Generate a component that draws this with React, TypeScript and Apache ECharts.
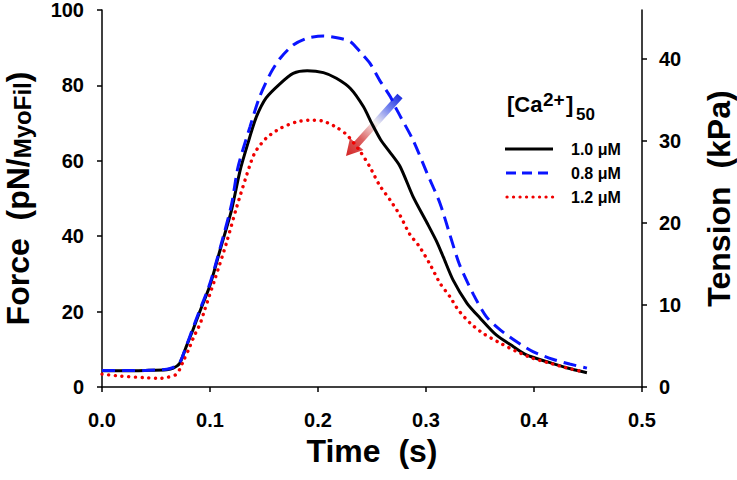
import React, { useEffect, useRef } from "react";
import * as echarts from "echarts";

const FONT = '"Liberation Sans", Arial, sans-serif';

const xTicks = [0, 0.1, 0.2, 0.3, 0.4, 0.5];
const forceTicks = [0, 20, 40, 60, 80, 100];
const tensionTicks = [0, 10, 20, 30, 40];

const seriesNames = ["1.0 \u03bcM", "0.8 \u03bcM", "1.2 \u03bcM"];

const timeBlack = [0, 0.02, 0.04, 0.06, 0.066, 0.072, 0.078, 0.084, 0.09, 0.1, 0.11, 0.12, 0.128, 0.136, 0.143, 0.152, 0.165, 0.177, 0.19, 0.205, 0.217, 0.23, 0.242, 0.25, 0.258, 0.266, 0.276, 0.288, 0.301, 0.31, 0.316, 0.325, 0.338, 0.35, 0.365, 0.381, 0.393, 0.412, 0.43, 0.449];
const forceBlack = [4.3, 4.3, 4.4, 4.6, 5.0, 6.3, 10.7, 15, 19.6, 27, 37, 47, 57.6, 65.5, 71.7, 76.7, 80.5, 83.2, 83.9, 83.4, 81.9, 79.2, 74.4, 69.8, 65.6, 62.5, 58.5, 50.5, 43.5, 38.5, 34.5, 28.4, 22.2, 18.3, 13.8, 10.7, 8.5, 6.7, 5.1, 3.8];

const timeBlue = [0, 0.02, 0.04, 0.06, 0.066, 0.072, 0.078, 0.084, 0.09, 0.1, 0.11, 0.12, 0.126, 0.137, 0.146, 0.156, 0.165, 0.177, 0.19, 0.205, 0.22, 0.23, 0.239, 0.248, 0.257, 0.267, 0.273, 0.288, 0.301, 0.313, 0.322, 0.331, 0.344, 0.356, 0.369, 0.384, 0.399, 0.418, 0.433, 0.449];
const forceBlue = [4.4, 4.4, 4.4, 4.7, 5.2, 6.5, 10.8, 15.5, 20, 27.5, 37.5, 48.5, 58.4, 69, 77, 83.2, 87.2, 90.7, 92.5, 93.1, 92.5, 91.6, 88.9, 85.9, 81.4, 77, 73.5, 65.5, 56.7, 48.7, 40.5, 32.5, 24.5, 18.6, 15.1, 12, 9.4, 7.3, 6.1, 5];

const timeRed = [0, 0.017, 0.038, 0.054, 0.061, 0.068, 0.072, 0.075, 0.08, 0.085, 0.091, 0.095, 0.105, 0.115, 0.125, 0.137, 0.142, 0.152, 0.165, 0.18, 0.193, 0.205, 0.217, 0.227, 0.239, 0.248, 0.257, 0.267, 0.276, 0.285, 0.294, 0.304, 0.313, 0.322, 0.33, 0.341, 0.353, 0.369, 0.384, 0.399, 0.415, 0.43, 0.446];
const forceRed = [3.4, 2.9, 2.5, 2.3, 2.6, 3.2, 4.7, 6.7, 9.8, 13.3, 16.9, 20.4, 29, 38, 48, 58.9, 62.4, 66, 68.6, 70.3, 70.8, 70.5, 68.9, 66.8, 62.5, 58.4, 53.5, 49.5, 45.5, 40.5, 37.2, 32.4, 27.5, 24, 20.4, 16.9, 14.2, 11.6, 9.4, 7.6, 6.3, 5.1, 4];

const pairs = (t: number[], v: number[]) => t.map((x, i) => [x, v[i]]);

export default function App() {
  const ref = useRef<HTMLDivElement>(null);
  useEffect(() => {
    if (!ref.current) return;
    const chart = echarts.init(ref.current, null, { renderer: "svg" });
    const axisLine = { show: true, lineStyle: { color: "#000", width: 1.5 } };
    const axisTick = { show: true, length: 5, lineStyle: { color: "#000", width: 1.5 } };
    const tickLabel = { color: "#000", fontSize: 20, fontWeight: "bold", fontFamily: FONT };
    const nameStyle = { color: "#000", fontSize: 32, fontWeight: "bold", fontFamily: FONT };
    const legendText = { fill: "#000", fontSize: 16, fontWeight: "bold", fontFamily: FONT, align: "left", verticalAlign: "middle" };

    const T = [400, 96];
    const tip = [346, 156];
    const arrowPts = [
      [402.6, 98.3], [359.3, 146.4], [363.4, 150.1], tip, [350.0, 138.1], [354.1, 141.8], [397.4, 93.7],
    ];

    const option: any = {
      animation: false,
      backgroundColor: "#fff",
      grid: { left: 102, right: 95, top: 10, bottom: 93, containLabel: false, outerBoundsMode: "none" },
      xAxis: {
        type: "value",
        min: 0,
        max: 0.5,
        interval: 0.1,
        name: "Time  (s)",
        nameLocation: "middle",
        nameGap: 47,
        nameTextStyle: nameStyle,
        axisLine,
        axisTick,
        axisLabel: { ...tickLabel, margin: 23, customValues: xTicks, formatter: (v: number) => v.toFixed(1) },
        splitLine: { show: false },
      },
      yAxis: [
        {
          type: "value",
          min: 0,
          max: 100,
          interval: 20,
          position: "left",
          name: "{a|Force  (pN/}{b|MyoFil}{a|)}",
          nameLocation: "middle",
          nameRotate: 90,
          nameGap: 68,
          nameTextStyle: {
            ...nameStyle,
            lineHeight: 28,
            rich: {
              a: { ...nameStyle, lineHeight: 28, verticalAlign: "bottom" },
              b: { color: "#000", fontSize: 24, fontWeight: "bold", fontFamily: FONT, lineHeight: 23, verticalAlign: "bottom" },
            },
          },
          axisLine,
          axisTick,
          axisLabel: { ...tickLabel, margin: 18, customValues: forceTicks },
          splitLine: { show: false },
        },
        {
          type: "value",
          min: 0,
          max: 46,
          position: "right",
          name: "Tension  (kPa)",
          nameLocation: "middle",
          nameRotate: 90,
          nameGap: 61,
          nameTextStyle: nameStyle,
          axisLine,
          axisTick: { ...axisTick, customValues: tensionTicks },
          axisLabel: { ...tickLabel, margin: 17, customValues: tensionTicks },
          splitLine: { show: false },
        },
      ],
      series: [
        {
          name: seriesNames[0],
          type: "line",
          data: pairs(timeBlack, forceBlack),
          showSymbol: false,
          smooth: 0.25,
          z: 3,
          lineStyle: { color: "#000", width: 3 },
        },
        {
          name: seriesNames[2],
          type: "line",
          data: pairs(timeRed, forceRed),
          showSymbol: false,
          smooth: 0.25,
          z: 4,
          lineStyle: { color: "#f00000", width: 3.4, type: [0.1, 6.6], cap: "round" },
        },
        {
          name: seriesNames[1],
          type: "line",
          data: pairs(timeBlue, forceBlue),
          showSymbol: false,
          smooth: 0.25,
          z: 5,
          lineStyle: { color: "#0a14ff", width: 3, type: [13, 7] },
        },
      ],
      graphic: [
        {
          type: "polygon",
          z: 1,
          shape: { points: arrowPts },
          style: {
            fill: new echarts.graphic.LinearGradient(T[0], T[1], tip[0], tip[1], [
              { offset: 0, color: "#1f2fe0" },
              { offset: 0.2, color: "#7080ee" },
              { offset: 0.45, color: "#f4f0f0" },
              { offset: 0.72, color: "#dc6060" },
              { offset: 1, color: "#d42424" },
            ], true),
          },
        },
        { type: "text", x: 507, y: 104, style: { ...legendText, text: "[Ca", fontSize: 22 } },
        { type: "text", x: 543, y: 99, style: { ...legendText, text: "2+", fontSize: 19 } },
        { type: "text", x: 566, y: 104, style: { ...legendText, text: "]", fontSize: 22 } },
        { type: "text", x: 576, y: 114, style: { ...legendText, text: "50", fontSize: 17 } },
        { type: "line", shape: { x1: 505, y1: 149, x2: 553, y2: 149 }, style: { stroke: "#000", lineWidth: 3 } },
        { type: "line", shape: { x1: 506, y1: 173, x2: 548, y2: 173 }, style: { stroke: "#0a14ff", lineWidth: 3, lineDash: [10, 6] } },
        { type: "line", shape: { x1: 507, y1: 197, x2: 553, y2: 197 }, style: { stroke: "#f00000", lineWidth: 3.2, lineDash: [0.1, 6.4], lineCap: "round" } },
        { type: "text", x: 571, y: 149, style: { ...legendText, text: seriesNames[0] } },
        { type: "text", x: 571, y: 173, style: { ...legendText, text: seriesNames[1] } },
        { type: "text", x: 571, y: 197, style: { ...legendText, text: seriesNames[2] } },
      ],
    };
    chart.setOption(option);
    return () => chart.dispose();
  }, []);
  return <div ref={ref} style={{ position: "fixed", left: 0, top: 0, width: 737, height: 480 }} />;
}
